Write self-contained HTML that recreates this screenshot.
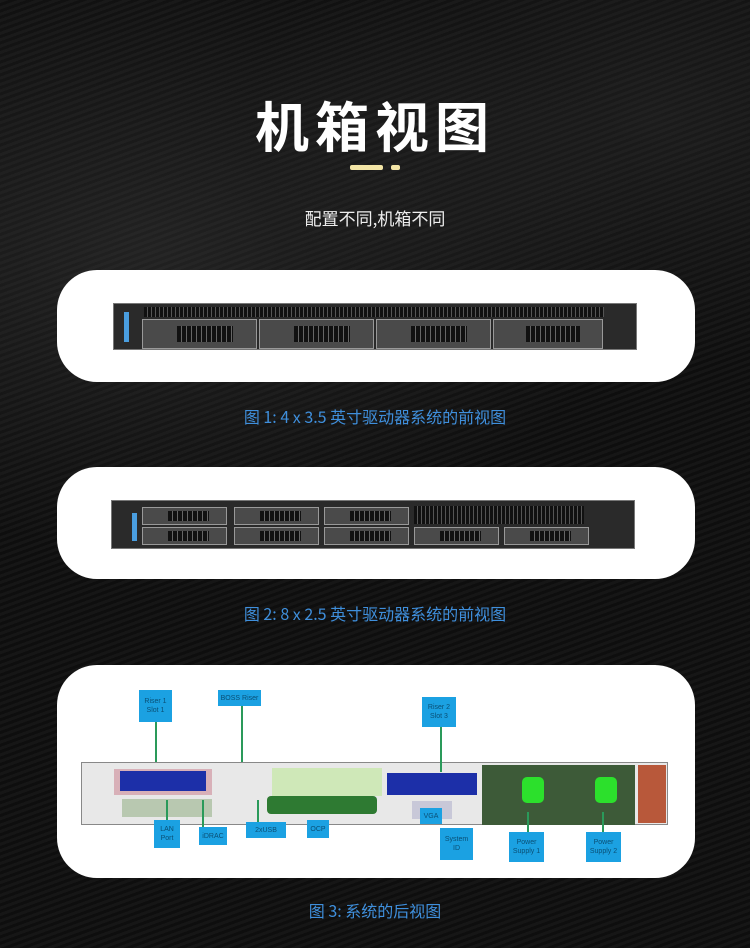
<!DOCTYPE html>
<html><head><meta charset="utf-8">
<style>
*{margin:0;padding:0;box-sizing:border-box}
body{width:750px;height:948px;overflow:hidden;background:#121212;position:relative;font-family:"Liberation Sans","Noto Sans CJK SC",sans-serif}
.bg{position:absolute;inset:0;background:
radial-gradient(ellipse 500px 300px at 150px 250px,rgba(70,70,70,.35),transparent),
radial-gradient(ellipse 400px 250px at 650px 120px,rgba(60,60,60,.3),transparent),
repeating-linear-gradient(160deg,#161616 0 3px,#0e0e0e 3px 6px)}
.a{position:absolute}
.title{left:0;width:750px;top:84px;text-align:center;color:#fff;font-size:54px;font-weight:bold;letter-spacing:6px;font-family:"Noto Sans CJK SC",sans-serif}
.sub{left:0;width:750px;top:205px;text-align:center;color:#eee;font-size:17px;font-family:"Noto Sans CJK SC",sans-serif}
.panel{position:absolute;left:57px;width:638px;background:#fff;border-radius:40px}
.cap{position:absolute;left:0;width:750px;text-align:center;color:#3f8fdc;font-size:16px;font-family:"Noto Sans CJK SC",sans-serif}
.srv{position:absolute;background:#2a2a2a;border:1px solid #777}
.bay{position:absolute;background:#4a4a4a;border:1px solid #999}
.bay::after{content:"";position:absolute;left:30%;top:20%;width:50%;height:60%;background:repeating-linear-gradient(90deg,#111 0 4px,#666 4px 5px)}
.grid{position:absolute;background:repeating-linear-gradient(90deg,#111 0 3px,#555 3px 4px)}
.lb{position:absolute;background:#1ba1e2;color:#0a4f75;font-size:7px;text-align:center;line-height:9px;display:flex;align-items:center;justify-content:center}
.ln{position:absolute;background:#2a9a5a;width:2px}
</style></head><body>
<div class="bg"></div>
<div class="a title">机箱视图</div>
<div class="a" style="left:350px;top:165px;width:33px;height:5px;background:#f3e5a6;border-radius:2px"></div>
<div class="a" style="left:391px;top:165px;width:9px;height:5px;background:#f3e5a6;border-radius:2px"></div>
<div class="a sub">配置不同,机箱不同</div>

<div class="panel" style="top:270px;height:112px"></div>
<div class="srv" style="left:113px;top:303px;width:524px;height:47px">
  <div class="grid" style="left:30px;top:3px;width:460px;height:10px"></div>
  <div class="a" style="left:10px;top:8px;width:5px;height:30px;background:#4a9ee0"></div>
  <div class="bay" style="left:28px;top:15px;width:115px;height:30px"></div>
  <div class="bay" style="left:145px;top:15px;width:115px;height:30px"></div>
  <div class="bay" style="left:262px;top:15px;width:115px;height:30px"></div>
  <div class="bay" style="left:379px;top:15px;width:110px;height:30px"></div>
</div>
<div class="cap" style="top:404px">图 1: 4 x 3.5 英寸驱动器系统的前视图</div>

<div class="panel" style="top:467px;height:112px"></div>
<div class="srv" style="left:111px;top:500px;width:524px;height:49px">
  <div class="a" style="left:20px;top:12px;width:5px;height:28px;background:#4a9ee0"></div>
  <div class="bay" style="left:30px;top:6px;width:85px;height:18px"></div>
  <div class="bay" style="left:30px;top:26px;width:85px;height:18px"></div>
  <div class="bay" style="left:122px;top:6px;width:85px;height:18px"></div>
  <div class="bay" style="left:122px;top:26px;width:85px;height:18px"></div>
  <div class="bay" style="left:212px;top:6px;width:85px;height:18px"></div>
  <div class="bay" style="left:212px;top:26px;width:85px;height:18px"></div>
  <div class="bay" style="left:302px;top:26px;width:85px;height:18px"></div>
  <div class="bay" style="left:392px;top:26px;width:85px;height:18px"></div>
  <div class="grid" style="left:302px;top:5px;width:170px;height:18px"></div>
</div>
<div class="cap" style="top:601px">图 2: 8 x 2.5 英寸驱动器系统的前视图</div>

<div class="panel" style="top:665px;height:213px"></div>
<div class="a" style="left:81px;top:762px;width:587px;height:63px;background:#e8e8e8;border:1px solid #888">
  <div class="a" style="left:32px;top:6px;width:98px;height:26px;background:#d8b0b8"></div>
  <div class="a" style="left:38px;top:8px;width:86px;height:20px;background:#1c2fa8"></div>
  <div class="a" style="left:40px;top:36px;width:90px;height:18px;background:#b8c8b0"></div>
  <div class="a" style="left:190px;top:5px;width:110px;height:28px;background:#cfe8b8"></div>
  <div class="a" style="left:185px;top:33px;width:110px;height:18px;background:#2e7a32;border-radius:4px"></div>
  <div class="a" style="left:305px;top:10px;width:90px;height:22px;background:#1c2fa8"></div>
  <div class="a" style="left:330px;top:38px;width:40px;height:18px;background:#c8c8d8"></div>
  <div class="a" style="left:400px;top:2px;width:80px;height:60px;background:#3d5a38"></div>
  <div class="a" style="left:473px;top:2px;width:80px;height:60px;background:#3d5a38"></div>
  <div class="a" style="left:440px;top:14px;width:22px;height:26px;background:#2ce02c;border-radius:5px"></div>
  <div class="a" style="left:513px;top:14px;width:22px;height:26px;background:#2ce02c;border-radius:5px"></div>
  <div class="a" style="left:556px;top:2px;width:28px;height:58px;background:#b8583a"></div>
</div>
<div class="lb" style="left:139px;top:690px;width:33px;height:32px">Riser 1<br>Slot 1</div>
<div class="ln" style="left:155px;top:722px;height:40px"></div>
<div class="lb" style="left:218px;top:690px;width:43px;height:16px">BOSS Riser</div>
<div class="ln" style="left:241px;top:706px;height:56px"></div>
<div class="lb" style="left:422px;top:697px;width:34px;height:30px">Riser 2<br>Slot 3</div>
<div class="ln" style="left:440px;top:727px;height:45px"></div>
<div class="lb" style="left:154px;top:820px;width:26px;height:28px">LAN<br>Port</div>
<div class="ln" style="left:166px;top:800px;height:20px"></div>
<div class="lb" style="left:199px;top:827px;width:28px;height:18px">iDRAC</div>
<div class="ln" style="left:202px;top:800px;height:27px"></div>
<div class="lb" style="left:246px;top:822px;width:40px;height:16px">2xUSB</div>
<div class="ln" style="left:257px;top:800px;height:22px"></div>
<div class="lb" style="left:307px;top:820px;width:22px;height:18px">OCP</div>
<div class="lb" style="left:420px;top:808px;width:22px;height:16px">VGA</div>
<div class="lb" style="left:440px;top:828px;width:33px;height:32px">System<br>ID</div>
<div class="lb" style="left:509px;top:832px;width:35px;height:30px">Power<br>Supply 1</div>
<div class="ln" style="left:527px;top:812px;height:20px"></div>
<div class="lb" style="left:586px;top:832px;width:35px;height:30px">Power<br>Supply 2</div>
<div class="ln" style="left:602px;top:812px;height:20px"></div>
<div class="cap" style="top:898px">图 3: 系统的后视图</div>
</body></html>
